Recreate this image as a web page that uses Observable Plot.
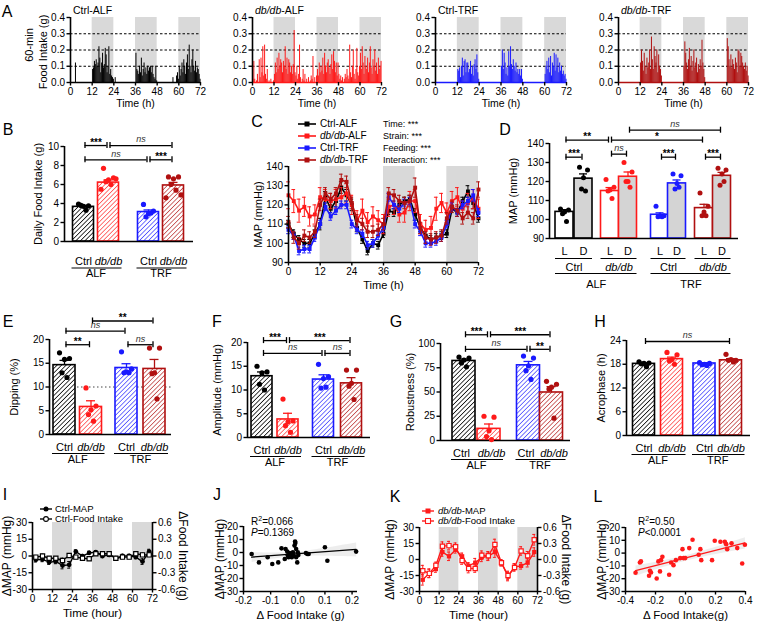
<!DOCTYPE html>
<html><head><meta charset="utf-8">
<script src="https://cdn.jsdelivr.net/npm/d3@7"></script>
<script src="https://cdn.jsdelivr.net/npm/@observablehq/plot@0.6"></script>
<style>
body{margin:0;background:#fff;}
#root{position:relative;width:757px;height:625px;overflow:hidden;font-family:'Liberation Sans',Arial,Helvetica,sans-serif;color:#000;background:#fff;}
#root svg.p{position:absolute;overflow:visible;}
.note{position:absolute;white-space:nowrap;line-height:1;}
.sup{font-size:7px;position:relative;top:-4px;}
</style></head><body>
<svg width="0" height="0" style="position:absolute">
<defs>
<pattern id="hatch0" patternUnits="userSpaceOnUse" width="3.2" height="3.2" patternTransform="rotate(45)"><rect width="3.2" height="3.2" fill="#fff"/><line x1="0" y1="0" x2="0" y2="3.2" stroke="#000" stroke-width="1.5"/></pattern>
<pattern id="hatch1" patternUnits="userSpaceOnUse" width="3.2" height="3.2" patternTransform="rotate(45)"><rect width="3.2" height="3.2" fill="#fff"/><line x1="0" y1="0" x2="0" y2="3.2" stroke="#ff1a1a" stroke-width="1.2"/></pattern>
<pattern id="hatch2" patternUnits="userSpaceOnUse" width="3.2" height="3.2" patternTransform="rotate(45)"><rect width="3.2" height="3.2" fill="#fff"/><line x1="0" y1="0" x2="0" y2="3.2" stroke="#1a1aff" stroke-width="1.2"/></pattern>
<pattern id="hatch3" patternUnits="userSpaceOnUse" width="3.2" height="3.2" patternTransform="rotate(45)"><rect width="3.2" height="3.2" fill="#fff"/><line x1="0" y1="0" x2="0" y2="3.2" stroke="#b01010" stroke-width="1.2"/></pattern>
</defs></svg>
<div id="root"></div>
<script>
// ---------------- DATA ----------------
const groups = ["Ctrl-ALF", "db/db-ALF", "Ctrl-TRF", "db/db-TRF"];
const strainLabels = ["Ctrl", "db/db", "Ctrl", "db/db"];
const feedLabels = ["ALF", "TRF"];
const darkPeriods = [[12, 24], [36, 48], [60, 72]];
const hourTicks = [0, 12, 24, 36, 48, 60, 72];

// A: 60-min food intake (g), every 0.5 h from 0 to 71.5 h
const foodCtrlALF = [
0,0,0,0,0,0.12, 0,0,0,0,0,0, 0,0,0,0,0,0, 0,0,0,0,0,0,
0.08,0.09,0.13,0.11,0.14,0.10, 0.12,0.22,0.15,0.06,0.12,0.18, 0.09,0.11,0.21,0.17,0.06,0.10, 0.22,0.05,0.08,0.04,0.03,0.02,
0,0.03,0,0,0,0, 0,0,0,0,0,0, 0,0,0,0,0,0, 0,0,0,0,0,0,
0.18,0.08,0.07,0.05,0.10,0.06, 0.15,0.04,0.08,0.12,0.06,0.09, 0.05,0.10,0.07,0.09,0.10,0.06, 0.10,0.05,0.03,0.02,0.10,0.01,
0,0,0,0,0,0, 0,0,0,0,0,0, 0,0,0,0,0,0.03, 0,0,0,0.04,0.06,0.02,
0.10,0.04,0.08,0.12,0.06,0.14, 0.10,0.05,0.12,0.17,0.08,0.23, 0.10,0.06,0.14,0.20,0.10,0.07, 0.13,0.06,0.09,0.08,0.05,0.02];
const foodDbALF = [
0.02,0.13,0.02,0,0.01,0.05, 0,0.14,0.03,0.15,0.06,0.22, 0.04,0.23,0.05,0.02,0.08,0, 0.01,0,0.02,0,0,0.01,
0.05,0.12,0.06,0.15,0.08,0.18, 0.10,0.14,0.12,0.06,0.13,0.10, 0.22,0.08,0.15,0.05,0.14,0.12, 0.06,0.10,0.05,0.11,0.32,0.06,
0.04,0.10,0.02,0.05,0.23,0.03, 0,0.02,0.08,0.01,0.05,0, 0.02,0,0.03,0,0.01,0.04, 0.02,0.16,0,0.03,0,0.04,
0.08,0.04,0.12,0.06,0.10,0.07, 0.15,0.05,0.18,0.10,0.06,0.12, 0.14,0.09,0.05,0.11,0.17,0.08, 0.19,0.13,0.06,0.12,0.04,0.12,
0.05,0.02,0.04,0.01,0.03,0, 0.02,0.05,0.03,0.08,0.04,0.02, 0.23,0.06,0.03,0.10,0.20,0.05, 0.02,0.08,0.21,0.06,0.04,0.10,
0.18,0.08,0.22,0.12,0.05,0.16, 0.10,0.08,0.15,0.06,0.12,0.22, 0.09,0.05,0.14,0.10,0.20,0.07, 0.12,0.05,0.15,0.08,0.10,0.13];
const foodCtrlTRF = [
0,0,0,0,0,0, 0,0,0,0,0,0, 0,0,0,0,0,0, 0,0,0,0,0,0,
0.08,0.07,0.09,0.03,0.10,0.15, 0.04,0.13,0.14,0.06,0.12,0.12, 0.06,0.08,0.13,0.05,0.10,0.04, 0.11,0.14,0.08,0.17,0.06,0.02,
0,0,0,0,0,0, 0,0,0,0,0,0, 0,0,0,0,0,0, 0,0,0,0,0,0,
0.10,0.20,0.08,0.18,0.12,0.05, 0.09,0.04,0.19,0.10,0.22,0.11, 0.08,0.14,0.10,0.07,0.12,0.06, 0.08,0.05,0.08,0.04,0.08,0.02,
0,0,0,0,0,0, 0,0,0,0,0,0, 0,0,0,0,0,0, 0,0,0,0,0,0,
0.05,0.10,0.13,0.08,0.15,0.06, 0.16,0.04,0.12,0.10,0.18,0.07, 0.17,0.09,0.15,0.06,0.12,0.07, 0.10,0.05,0.07,0.04,0.05,0.02];
const foodDbTRF = [
0,0,0,0,0,0, 0,0,0,0,0,0, 0,0,0,0,0,0, 0,0,0,0,0,0,
0.12,0.20,0.13,0.07,0.18,0.10, 0.05,0.15,0.09,0.12,0.20,0.08, 0.28,0.14,0.08,0.22,0.16,0.12, 0.20,0.06,0.17,0.10,0.08,0.04,
0,0,0,0,0,0, 0,0,0,0,0,0, 0,0,0,0,0,0, 0,0,0,0,0,0,
0.10,0.25,0.18,0.12,0.08,0.14, 0.21,0.10,0.16,0.07,0.13,0.20, 0.09,0.12,0.15,0.06,0.11,0.08, 0.14,0.10,0.26,0.12,0.08,0.03,
0,0,0,0,0,0, 0,0,0,0,0,0, 0,0,0,0,0,0, 0,0,0,0,0,0,
0.27,0.22,0.14,0.10,0.17,0.09, 0.14,0.11,0.08,0.15,0.12,0.06, 0.20,0.19,0.10,0.18,0.16,0.12, 0.10,0.08,0.12,0.07,0.10,0.04];

// B: daily food intake (g)
const bMeans = [3.65, 6.2, 3.1, 5.9];
const bSems = [0.15, 0.28, 0.22, 0.32];
const bPts = [[3.95,3.75,3.7,3.8,3.3],[7.7,6.7,6.5,6.3,6.0,5.5,6.6],[3.9,3.2,2.95,2.6,3.0],[6.8,6.8,6.6,6.0,5.4,4.6,4.9]];
const bBrackets = [[0,1,10.1,"***"],[1,3,10.1,"ns"],[0,2,8.6,"ns"],[2,3,8.6,"***"]];

// C: MAP time course every 2 h
const hours2 = [0,2,4,6,8,10,12,14,16,18,20,22,24,26,28,30,32,34,36,38,40,42,44,46,48,50,52,54,56,58,60,62,64,66,68,70,72];
const mapCtrlALF = [110,105,102,100,100,105,110,124,118,122,129,125,120,108,102,96,100,99,105,117,116,120,122,123,115,108,104,102,103,104,105,118,116,122,127,121,113];
const mapDbALF   = [125,122,117,119,114,115,124,123,122,123,124,126,120,112,117,111,114,112,110,119,120,115,116,122,122,110,107,108,118,121,116,122,124,118,121,123,118];
const mapCtrlTRF = [107,104,96,97,97,103,110,119,114,117,120,120,110,107,105,99,100,104,108,124,120,118,121,122,110,106,100,100,101,103,110,119,116,120,122,125,116];
const mapDbTRF   = [111,103,100,104,103,106,120,126,123,126,133,132,121,112,110,106,106,107,110,126,125,122,121,122,129,108,103,102,103,104,113,119,117,113,116,113,128];
const semCtrlALF = [2,2,2,2,2,2,3,3,2,3,3,3,3,2,2,2,2,2,2,2,2,2,2,2,3,2,2,2,2,2,2,2,2,2,3,3,2];
const semDbALF   = [7,6,6,5,5,5,5,5,4,5,5,5,5,5,6,5,5,5,5,5,5,4,5,5,6,5,5,6,6,5,5,5,5,4,5,5,5];
const semCtrlTRF = [2,2,2,2,2,2,2,2,2,2,2,2,2,2,2,2,2,2,2,2,2,2,2,2,2,2,2,2,2,2,2,2,2,2,2,3,2];
const semDbTRF   = [3,3,3,3,3,3,3,3,3,3,3,3,3,3,3,3,3,3,3,3,3,3,3,3,5,3,3,3,3,3,3,3,3,3,3,3,4];
const cStats = ["Time: ***", "Strain: ***", "Feeding: ***", "Interaction: ***"];

// D: MAP light / dark
const dLight = [104, 115, 102.5, 106];
const dDark = [121.5, 122.5, 119, 123];
const dLightSem = [1.2, 1.8, 1.0, 2.0];
const dDarkSem = [2.5, 2.5, 1.8, 1.8];
const dLightPts = [[105.5,105,104,103,99],[121,117,115.5,115,111],[107,102,102,101.5,101.5],[114,107,104,102,102]];
const dDarkPts = [[127.5,126,122,116,115],[130,125,120,120,117],[124,123,119,116,117],[127,126,124,118,120]];
const dBrackets = [[0,1,132.8,"***"],[2,3,134.4,"ns"],[4,5,132.8,"***"],[6,7,132.8,"***"],[0,2,141.8,"**"],[2,6,141.8,"*"],[3,7,147,"ns"]];

// E-H
const eMeans = [14.6, 5.8, 14.0, 13.8], eSems = [1.0, 1.3, 0.9, 2.0];
const ePts = [[17.2,16,15.8,13,12],[9.8,6.0,5.2,4.2,2.8],[17.4,13.8,13.2,13,13],[18.2,18.2,13,12.8,7.5]];
const eBrackets = [[0,1,18.9,"**"],[2,3,18.9,"ns"],[0,2,21.75,"ns"],[1,3,23.9,"**"]];
const fMeans = [12.9, 3.8, 12.2, 11.4], fSems = [0.9, 1.3, 1.0, 1.2];
const fPts = [[15,13.8,13.6,11.2,10],[8.1,3.5,3.3,2.5,1.1],[15.4,12.8,12.4,10.4,10.6],[14.2,14.2,11.4,10.8,8]];
const fBrackets = [[0,1,20.4,"***"],[1,3,20.4,"***"],[0,2,17.7,"ns"],[2,3,17.7,"ns"]];
const gMeans = [82, 12, 77.5, 49.5], gSems = [2, 5, 4, 6];
const gPts = [[86,85,83,80,76],[25,24,10,4,1],[87,85,77,72,63],[61,58,55,53,23]];
const gBrackets = [[0,1,109,"***"],[1,3,109,"***"],[0,2,94,"ns"],[2,3,94,"**"]];
const hMeans = [18.1, 19.3, 18.2, 19.0], hSems = [0.25, 0.5, 0.15, 0.4];
const hPts = [[18.6,18.3,18.2,18.1,17.4],[21,20.4,19.2,18.8,18.0],[18.4,18.2,18,17.9,17.7],[20.5,19,19.2,19,18.6]];
const hBrackets = [[0,3,23.75,"ns"]];

// I, K: delta MAP (mmHg) and delta food intake (g), every 4 h
const hours4 = [2,6,10,14,18,22,26,30,34,38,42,46,50,54,58,62,66,70];
const iMap = [-3.4,-3.1,-5.5,-4.9,-8.5,-7.9,4,-0.1,2.8,3.4,0,1,-2,0,0,-1,-5,4];
const iMapSem = [2,2,2,2,3,3,1.5,1.5,1.5,1.5,1.5,1.5,1.5,1.5,1.5,1.5,2.5,2];
const iFood = [-0.02,0,-0.04,-0.04,-0.08,0.01,-0.02,-0.04,-0.05,0.04,0.04,0.04,-0.04,-0.02,-0.02,0.04,0.02,0.02];
const iFoodSem = [0.03,0.03,0.03,0.03,0.04,0.03,0.03,0.03,0.03,0.03,0.03,0.03,0.03,0.03,0.03,0.03,0.03,0.03];
const kMap = [-19,-13,-9,7,3,9,3,-6,-3,2,3,7,-3,-16,-7,-6,-3,7];
const kMapSem = [5,4,3,4,4,3,3,3,4,4,4,5,3,4,3,3,4,4];
const kFood = [-0.21,-0.26,-0.11,0.25,0.26,0.24,-0.02,-0.17,-0.17,0.08,0.07,0.28,-0.06,-0.30,-0.15,0.16,0.07,0.37];
const kFoodSem = [0.1,0.08,0.06,0.08,0.08,0.07,0.07,0.08,0.07,0.08,0.08,0.1,0.06,0.08,0.07,0.08,0.08,0.1];

// J, L: correlation delta food intake (g) vs delta MAP (mmHg)
const jFood = [-0.17,-0.143,-0.111,-0.094,-0.072,-0.06,-0.048,-0.045,-0.039,-0.037,-0.034,-0.03,-0.027,-0.022,-0.018,-0.015,-0.012,-0.01,-0.009,-0.006,-0.006,-0.002,0.0,0.002,0.03,0.035,0.04,0.1,0.109,0.215];
const jMap = [-1.1,-7.6,-3.7,-8.9,-7.6,3.2,-5,2.7,0.7,-2.4,-3.7,-0.4,-1.9,-3.7,0.2,-2.4,5.3,8.4,7.4,2.7,-3.7,-7.6,0.2,-1.9,-0.4,-1.1,-1.1,4,-6.3,0.7];
const lFood = [-0.333,-0.304,-0.297,-0.243,-0.237,-0.23,-0.192,-0.181,-0.17,-0.163,-0.154,-0.109,-0.096,-0.08,-0.064,-0.035,-0.02,-0.013,-0.002,0.025,0.047,0.088,0.099,0.105,0.177,0.195,0.233,0.262,0.271,0.278,0.307,0.345,0.378,0.396];
const lMap = [-15.4,-7.3,-6.5,-17.7,-13.8,-15.1,-19.8,-6.5,-14.3,-5.5,-2.9,-16.9,-7.3,-9.4,-5.5,-3.9,3.1,-3.9,-3.9,3.9,10.4,-1.3,3.1,-5.5,-5.5,9.6,8.9,8.9,7,3.1,7.6,3.9,-8.1,6.5];

// ---------------- STYLE ----------------
const palette = ["#000000", "#ff1a1a", "#1a1aff", "#b01010"];
const FONT = "'Liberation Sans', Arial, Helvetica, sans-serif";
const TICK = 10;
const root = document.getElementById("root");
const spread = [-5, 5, 0, -2.5, 2.5, -7.5, 7.5];

function mkPlot(x0, x1, y0, y1, pad, xs, ys, marks) {
  const [pt, pr, pb, pl] = pad;
  const width = pl + (x1 - x0) + pr, height = pt + (y1 - y0) + pb;
  const svg = Plot.plot({
    width, height, marginTop: pt, marginRight: pr, marginBottom: pb, marginLeft: pl,
    x: {...xs, axis: null}, y: {...ys, axis: null}, color: {type: "identity"},
    style: {fontFamily: FONT, fontSize: TICK + "px", color: "#000", background: "transparent", overflow: "visible"},
    marks: marks.filter(Boolean)
  });
  svg.classList.add("p");
  svg.style.left = (x0 - pl) + "px";
  svg.style.top = (y0 - pt) + "px";
  root.appendChild(svg);
}
const yAx = (ticks, fmt, anchor = "left") => Plot.axisY({anchor, ticks, tickFormat: fmt, tickSize: 3.5, tickPadding: 2, fontSize: TICK, strokeWidth: 1.4, label: null});
const xAx = (ticks, fmt) => Plot.axisX({ticks, tickFormat: fmt, tickSize: 3.5, tickPadding: 2, fontSize: TICK, strokeWidth: 1.4, label: null});
const yTitle = (t, dx, size = 11, dy = 0) => Plot.text([t], {text: d => d, frameAnchor: "left", textAnchor: "middle", lineAnchor: "middle", rotate: -90, dx, dy, fontSize: size});
const xTitle = (t, dy, size = 11) => Plot.text([t], {text: d => d, frameAnchor: "bottom", textAnchor: "middle", lineAnchor: "middle", dy, fontSize: size});
const fmt1 = d => d.toFixed(1);
const fmt0 = d => String(d);

function note(html, x, y, size, anchor = "l") {
  const d = document.createElement("div");
  d.className = "note";
  d.innerHTML = html;
  d.style.left = x + "px"; d.style.top = y + "px"; d.style.fontSize = size + "px";
  d.style.transform = anchor === "c" ? "translate(-50%,-50%)" : "translate(0,-50%)";
  root.appendChild(d);
}

function bracketMarks(brk, cx, ky) {
  const sh = 1.5;
  const ends = brk.flatMap(b => [[cx[b[0]] + sh, b[2]], [cx[b[1]] - sh, b[2]]]);
  return [
    Plot.ruleY(brk, {y: b => b[2], x1: b => cx[b[0]] + sh, x2: b => cx[b[1]] - sh, stroke: "#000", strokeWidth: 1.3}),
    Plot.ruleX(ends, {x: d => d[0], y1: d => d[1] - 3 * ky, y2: d => d[1] + 3 * ky, stroke: "#000", strokeWidth: 1.3}),
    Plot.text(brk.filter(b => b[3] !== "ns"), {x: b => (cx[b[0]] + cx[b[1]]) / 2, y: b => b[2], dy: -3, text: b => b[3], fontSize: 10, fontWeight: "bold"}),
    Plot.text(brk.filter(b => b[3] === "ns"), {x: b => (cx[b[0]] + cx[b[1]]) / 2, y: b => b[2], dy: -6, text: b => b[3], fontSize: 9, fontStyle: "italic", fill: "#333"})
  ];
}

function barPanel(c) {
  const W = c.x1 - c.x0, H = c.y1 - c.y0;
  const ymin = c.dom[0], ky = (c.dom[1] - c.dom[0]) / H;
  const cx = c.cx, bw = c.bw, lab = c.lab, ls = c.ls || 0;
  const rows = c.means.map((m, i) => ({i, m, s: c.sems[i], c: cx[i], col: palette[i]}));
  const dots = c.pts.flatMap((arr, i) => arr.map((v, j) => ({i, v, x: cx[i] + spread[j]})));
  mkPlot(c.x0, c.x1, c.y0, c.y1, [34, 8, 42, 50], {domain: [0, W]}, {domain: c.dom}, [
    c.ref != null ? Plot.ruleY([c.ref], {stroke: "#444", strokeWidth: 1, strokeDasharray: "1.5,2.5"}) : null,
    Plot.rect(rows, {x1: d => d.c - bw / 2, x2: d => d.c + bw / 2, y1: ymin, y2: d => d.m, fill: d => `url(#hatch${d.i})`, stroke: d => d.col, strokeWidth: 1.6}),
    Plot.ruleX(rows, {x: d => d.c, y1: d => d.m, y2: d => d.m + d.s, stroke: d => d.col, strokeWidth: 1.3}),
    Plot.ruleY(rows, {y: d => d.m + d.s, x1: d => d.c - 4.5, x2: d => d.c + 4.5, stroke: d => d.col, strokeWidth: 1.3}),
    Plot.ruleX([0], {stroke: "#000", strokeWidth: 1.6}),
    Plot.ruleY([ymin], {stroke: "#000", strokeWidth: 1.6}),
    Plot.dot(dots, {x: d => d.x, y: d => d.v, r: 2.6, fill: d => palette[d.i], stroke: "none"}),
    yAx(c.ticks, c.fmt || fmt0),
    yTitle(c.title, c.tdx),
    ...bracketMarks(c.brk, cx, ky),
    Plot.text([0, 2], {x: i => cx[i] - ls, y: ymin - lab[0] * ky, text: i => strainLabels[i], fontSize: 11}),
    Plot.text([1, 3], {x: i => cx[i] + ls, y: ymin - lab[0] * ky, text: i => strainLabels[i], fontSize: 11, fontStyle: "italic"}),
    Plot.ruleY([0, 1], {y: ymin - lab[1] * ky, x1: g => cx[2 * g] - bw / 2 - 1, x2: g => cx[2 * g + 1] + bw / 2 + 3, stroke: "#000", strokeWidth: 1.2}),
    Plot.text([0, 1], {x: g => (cx[2 * g] + cx[2 * g + 1]) / 2, y: ymin - lab[2] * ky, text: g => feedLabels[g], fontSize: 11})
  ]);
}

// ---------------- A ----------------
const foodSeries = [foodCtrlALF, foodDbALF, foodCtrlTRF, foodDbTRF];
const aFrames = [[70, 200], [252, 381], [435, 566], [618, 748]];
foodSeries.forEach((series, k) => {
  const rows = series.map((v, j) => ({t: j * 0.5 + 0.25, v})).filter(d => d.v > 0);
  const [x0, x1] = aFrames[k];
  mkPlot(x0, x1, 17, 82, [12, 8, 24, 48], {domain: [0, 72]}, {domain: [0, 0.4]}, [
    Plot.rect(darkPeriods, {x1: d => d[0], x2: d => d[1], y1: 0, y2: 0.4, fill: "#d9d9d9"}),
    Plot.ruleY([0.1, 0.2, 0.3], {stroke: "#000", strokeWidth: 1, strokeDasharray: "2.5,2"}),
    Plot.ruleX(rows, {x: "t", y1: 0, y2: "v", stroke: palette[k], strokeWidth: 1}),
    Plot.ruleY([0], {stroke: palette[k], strokeWidth: 1.6}),
    Plot.ruleX([0], {stroke: "#000", strokeWidth: 1.6}),
    xAx(hourTicks, fmt0),
    yAx([0, 0.1, 0.2, 0.3, 0.4], fmt1),
    xTitle("Time (h)", 21, 10.5),
    k === 0 ? yTitle("60-min", -41, 11, -5) : null,
    k === 0 ? yTitle("Food Intake (g)", -27, 11, 2) : null
  ]);
});
note("Ctrl-ALF", 73, 10, 10.5);
note("<i>db/db</i>-ALF", 255, 10, 10.5);
note("Ctrl-TRF", 438, 10, 10.5);
note("<i>db/db</i>-TRF", 621, 10, 10.5);

// ---------------- B ----------------
barPanel({x0: 64, x1: 193, y0: 146, y1: 241, dom: [0, 10], ticks: [0, 2, 4, 6, 8, 10], title: "Daily Food Intake (g)", tdx: -26,
  means: bMeans, sems: bSems, pts: bPts, cx: [19, 44, 84, 109], bw: 21, brk: bBrackets, lab: [20, 26.5, 32]});

// ---------------- C ----------------
{
  const series = [[mapCtrlALF, semCtrlALF], [mapDbALF, semDbALF], [mapCtrlTRF, semCtrlTRF], [mapDbTRF, semDbTRF]];
  const marks = [Plot.rect(darkPeriods, {x1: d => d[0], x2: d => d[1], y1: 90, y2: 140, fill: "#d9d9d9"})];
  series.forEach(([vals, sems], k) => {
    const rows = hours2.map((t, j) => ({t, v: vals[j], e: sems[j]}));
    const col = palette[k];
    marks.push(
      Plot.ruleX(rows, {x: "t", y1: d => d.v - d.e, y2: d => d.v + d.e, stroke: col, strokeWidth: 1}),
      Plot.ruleY(rows, {y: d => d.v + d.e, x1: d => d.t - 0.7, x2: d => d.t + 0.7, stroke: col, strokeWidth: 1}),
      Plot.ruleY(rows, {y: d => d.v - d.e, x1: d => d.t - 0.7, x2: d => d.t + 0.7, stroke: col, strokeWidth: 1}),
      Plot.line(rows, {x: "t", y: "v", stroke: col, strokeWidth: 1.6}),
      Plot.dot(rows, {x: "t", y: "v", symbol: "square", r: 2.2, fill: col, stroke: "none"})
    );
  });
  marks.push(
    Plot.ruleX([0], {stroke: "#000", strokeWidth: 1.6}),
    Plot.ruleY([90], {stroke: "#000", strokeWidth: 1.6}),
    xAx(hourTicks, fmt0),
    yAx([90, 100, 110, 120, 130, 140], fmt0),
    xTitle("Time (h)", 23),
    yTitle("MAP (mmHg)", -30)
  );
  mkPlot(288, 478, 166, 262, [50, 10, 30, 40], {domain: [0, 72]}, {domain: [90, 140]}, marks);
  const legendRows = [124, 136, 148, 160];
  const legendNames = ["Ctrl-ALF", "<i>db/db</i>-ALF", "Ctrl-TRF", "<i>db/db</i>-TRF"];
  legendRows.forEach((y, k) => {
    note(`<svg width="18" height="8" style="display:block"><line x1="0" y1="4" x2="18" y2="4" stroke="${palette[k]}" stroke-width="1.6"/><rect x="6.5" y="1.5" width="5" height="5" fill="${palette[k]}"/></svg>`, 298, y, 10);
    note(legendNames[k], 320, y, 10);
    note(cStats[k], 383, y, 9);
  });
}

// ---------------- D ----------------
{
  const x0 = 549, x1 = 738, y0 = 143, y1 = 238, dom = [90, 140];
  const ky = (dom[1] - dom[0]) / (y1 - y0), ymin = 90;
  const cx = [15, 34, 60.5, 78.5, 110.5, 127.5, 154.5, 172.5], bw = 18;
  const rows = [];
  const dots = [];
  for (let g = 0; g < 4; g++) {
    rows.push({c: cx[2 * g], m: dLight[g], s: dLightSem[g], col: palette[g], fill: "#ffffff"});
    rows.push({c: cx[2 * g + 1], m: dDark[g], s: dDarkSem[g], col: palette[g], fill: "#d4d4d4"});
    dLightPts[g].forEach((v, j) => dots.push({x: cx[2 * g] + spread[j] * 0.8, v, col: palette[g]}));
    dDarkPts[g].forEach((v, j) => dots.push({x: cx[2 * g + 1] + spread[j] * 0.8, v, col: palette[g]}));
  }
  mkPlot(x0, x1, y0, y1, [30, 10, 55, 50], {domain: [0, x1 - x0]}, {domain: dom}, [
    Plot.rect(rows, {x1: d => d.c - bw / 2, x2: d => d.c + bw / 2, y1: ymin, y2: d => d.m, fill: d => d.fill, stroke: d => d.col, strokeWidth: 1.6}),
    Plot.ruleX(rows, {x: d => d.c, y1: d => d.m, y2: d => d.m + d.s, stroke: d => d.col, strokeWidth: 1.3}),
    Plot.ruleY(rows, {y: d => d.m + d.s, x1: d => d.c - 4, x2: d => d.c + 4, stroke: d => d.col, strokeWidth: 1.3}),
    Plot.ruleX([0], {stroke: "#000", strokeWidth: 1.6}),
    Plot.ruleY([ymin], {stroke: "#000", strokeWidth: 1.6}),
    Plot.dot(dots, {x: "x", y: "v", r: 2.5, fill: d => d.col, stroke: "none"}),
    yAx([90, 100, 110, 120, 130, 140], fmt0),
    yTitle("MAP (mmHg)", -36),
    ...bracketMarks(dBrackets, cx, ky),
    Plot.text(cx, {x: d => d, y: ymin - 13 * ky, text: (d, i) => (i % 2 ? "D" : "L"), fontSize: 11}),
    Plot.ruleY([0, 1, 2, 3], {y: ymin - 20 * ky, x1: g => cx[2 * g] - bw / 2, x2: g => cx[2 * g + 1] + bw / 2, stroke: "#000", strokeWidth: 1.2}),
    Plot.text([0, 2], {x: g => (cx[2 * g] + cx[2 * g + 1]) / 2, y: ymin - 29 * ky, text: g => strainLabels[g], fontSize: 11}),
    Plot.text([1, 3], {x: g => (cx[2 * g] + cx[2 * g + 1]) / 2, y: ymin - 29 * ky, text: g => strainLabels[g], fontSize: 11, fontStyle: "italic"}),
    Plot.ruleY([0, 1], {y: ymin - 35 * ky, x1: g => cx[4 * g] - bw / 2, x2: g => cx[4 * g + 3] + bw / 2, stroke: "#000", strokeWidth: 1.2}),
    Plot.text([0, 1], {x: g => (cx[4 * g] + cx[4 * g + 3]) / 2, y: ymin - 45.5 * ky, text: g => feedLabels[g], fontSize: 11})
  ]);
}

// ---------------- E-H ----------------
barPanel({x0: 49, x1: 171, y0: 339, y1: 434, dom: [0, 20], ticks: [0, 5, 10, 15, 20], title: "Dipping (%)", tdx: -35,
  means: eMeans, sems: eSems, pts: ePts, cx: [15, 41.5, 77, 105], bw: 22, brk: eBrackets, lab: [12.5, 19, 25], ref: 10});
barPanel({x0: 247, x1: 370, y0: 342, y1: 437, dom: [0, 20], ticks: [0, 5, 10, 15, 20], title: "Amplitude (mmHg)", tdx: -30,
  means: fMeans, sems: fSems, pts: fPts, cx: [14.5, 40.5, 76, 104], bw: 21, brk: fBrackets, lab: [12.5, 19, 25]});
barPanel({x0: 440, x1: 570, y0: 343, y1: 440, dom: [0, 100], ticks: [0, 25, 50, 75, 100], title: "Robustness (%)", tdx: -30,
  means: gMeans, sems: gSems, pts: gPts, cx: [23.5, 48.5, 88, 111], bw: 23, brk: gBrackets, lab: [12.5, 19, 25], ls: 2.5});
barPanel({x0: 626, x1: 750, y0: 340, y1: 435, dom: [0, 24], ticks: [0, 6, 12, 18, 24], title: "Acrophase (h)", tdx: -25,
  means: hMeans, sems: hSems, pts: hPts, cx: [17.5, 45.5, 78, 104.5], bw: 22, brk: hBrackets, lab: [12.5, 19, 25]});

// ---------------- I, K ----------------
function timePanel(x0, x1, y0, y1, col, mapV, mapS, foodV, foodS, filledSymbol, ldx, rdx) {
  const scaleG = 50; // 0.6 g on the right axis = 30 mmHg on the left axis
  const mapRows = hours4.map((t, j) => ({t, v: mapV[j], e: mapS[j]}));
  const foodRows = hours4.map((t, j) => ({t, v: foodV[j] * scaleG, e: foodS[j] * scaleG}));
  const eb = rows => [
    Plot.ruleX(rows, {x: "t", y1: d => d.v - d.e, y2: d => d.v + d.e, stroke: col, strokeWidth: 1}),
    Plot.ruleY(rows, {y: d => d.v + d.e, x1: d => d.t - 0.9, x2: d => d.t + 0.9, stroke: col, strokeWidth: 1}),
    Plot.ruleY(rows, {y: d => d.v - d.e, x1: d => d.t - 0.9, x2: d => d.t + 0.9, stroke: col, strokeWidth: 1})
  ];
  mkPlot(x0, x1, y0, y1, [20, 40, 30, 40], {domain: [0, 72]}, {domain: [-30, 30]}, [
    Plot.rect(darkPeriods, {x1: d => d[0], x2: d => d[1], y1: -30, y2: 30, fill: "#d9d9d9"}),
    ...eb(foodRows),
    ...eb(mapRows),
    Plot.line(foodRows, {x: "t", y: "v", stroke: col, strokeWidth: 1.4}),
    Plot.line(mapRows, {x: "t", y: "v", stroke: col, strokeWidth: 1.4}),
    Plot.dot(mapRows, {x: "t", y: "v", symbol: filledSymbol, r: 2.4, fill: col, stroke: "none"}),
    Plot.dot(foodRows, {x: "t", y: "v", symbol: "square", r: 2.4, fill: "#fff", stroke: col, strokeWidth: 1.2}),
    Plot.ruleX([0], {stroke: "#000", strokeWidth: 1.6}),
    Plot.ruleX([72], {stroke: "#000", strokeWidth: 1.6}),
    Plot.ruleY([-30], {stroke: "#000", strokeWidth: 1.6}),
    xAx(hourTicks, fmt0),
    yAx([-30, -15, 0, 15, 30], fmt0),
    yAx([-30, -15, 0, 15, 30], d => (d / scaleG).toFixed(1), "right"),
    xTitle("Time (hour)", 24, 11.5),
    yTitle("\u0394MAP (mmHg)", ldx, 12),
    Plot.text(["\u0394Food Intake (g)"], {text: d => d, frameAnchor: "right", textAnchor: "middle", lineAnchor: "middle", rotate: 90, dx: rdx, fontSize: 12})
  ]);
}
timePanel(32, 152, 522, 589, "#000", iMap, iMapSem, iFood, iFoodSem, "circle", -25, 30);
timePanel(419, 537, 527, 591, palette[1], kMap, kMapSem, kFood, kFoodSem, "square", -29, 28);
note(`<svg width="12" height="8" style="display:block"><line x1="0" y1="4" x2="12" y2="4" stroke="#000" stroke-width="1.4"/><circle cx="6" cy="4" r="2.5" fill="#000"/></svg>`, 40, 508.5, 9.5);
note("Ctrl-MAP", 55, 508.5, 9.5);
note(`<svg width="12" height="8" style="display:block"><line x1="0" y1="4" x2="12" y2="4" stroke="#000" stroke-width="1.4"/><circle cx="6" cy="4" r="2.4" fill="#fff" stroke="#000" stroke-width="1.1"/></svg>`, 40, 518.5, 9.5);
note("Ctrl-Food Intake", 55, 518.5, 9.5);
note(`<svg width="12" height="8" style="display:block"><line x1="0" y1="4" x2="12" y2="4" stroke="${palette[1]}" stroke-width="1.4"/><rect x="3.5" y="1.5" width="5" height="5" fill="${palette[1]}"/></svg>`, 422, 511, 9.5);
note("<i>db/db</i>-MAP", 438, 511, 9.5);
note(`<svg width="12" height="8" style="display:block"><line x1="0" y1="4" x2="12" y2="4" stroke="${palette[1]}" stroke-width="1.4"/><rect x="3.5" y="1.5" width="5" height="5" fill="#fff" stroke="${palette[1]}" stroke-width="1.1"/></svg>`, 422, 521, 9.5);
note("<i>db/db</i>-Food Intake", 438, 521, 9.5);

// ---------------- J, L ----------------
function scatterPanel(x0, x1, y0, y1, xdom, xticks, fx, fy, col, xlabel) {
  const rows = fx.map((x, j) => ({x, y: fy[j]}));
  mkPlot(x0, x1, y0, y1, [20, 10, 30, 40], {domain: xdom}, {domain: [-30, 20]}, [
    Plot.linearRegressionY(rows, {x: "x", y: "y", stroke: col, strokeWidth: 1.3, ci: 0.95, fill: "#888", fillOpacity: 0.15}),
    Plot.dot(rows, {x: "x", y: "y", r: 2.3, fill: col, stroke: "none"}),
    Plot.ruleX([xdom[0]], {stroke: "#000", strokeWidth: 1.6}),
    Plot.ruleY([-30], {stroke: "#000", strokeWidth: 1.6}),
    xAx(xticks, fmt1),
    yAx([-30, -20, -10, 0, 10, 20], fmt0),
    xTitle(xlabel, 24, 11.5),
    yTitle("\u0394MAP (mmHg)", -23, 12)
  ]);
}
scatterPanel(243, 357, 526, 591, [-0.2, 0.22], [-0.2, -0.1, 0, 0.1, 0.2], jFood, jMap, "#000", "\u0394 Food Intake (g)");
scatterPanel(625, 745, 527, 591, [-0.4, 0.4], [-0.4, -0.2, 0, 0.2, 0.4], lFood, lMap, palette[1], "\u0394 Food Intake(g)");
note("R<span class='sup'>2</span>=0.066", 251, 521.5, 10);
note("<i>P</i>=0.1369", 251, 533, 10);
note("R<span class='sup'>2</span>=0.50", 638, 521.5, 10);
note("<i>P</i>&lt;0.0001", 638, 533, 10);

// ---------------- panel letters ----------------
[["A", 7, 12], ["B", 8, 130], ["C", 257, 122], ["D", 505, 130], ["E", 8, 322], ["F", 217, 322], ["G", 396, 322], ["H", 600, 322],
 ["I", 5, 495], ["J", 217, 495], ["K", 395, 497], ["L", 598, 497]].forEach(([t, x, y]) => note(t, x, y, 16, "c"));
</script>
</body></html>
